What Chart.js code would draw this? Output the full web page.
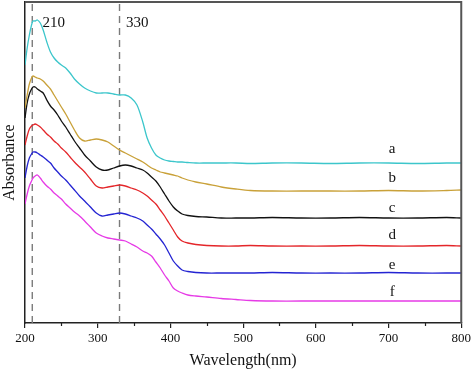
<!DOCTYPE html>
<html><head><meta charset="utf-8">
<script src="https://cdn.jsdelivr.net/npm/chart.js@4/dist/chart.umd.min.js"></script>
<style>html,body{margin:0;padding:0;background:#fff}canvas{display:block}</style>
</head><body>
<canvas id="c" width="474" height="372"></canvas>
<script>
// ---- data ----
const wavelengths = [200,203,206,209,211,214,217,221,225,230,235,240,245,250,256,262,268,275,282,290,298,306,314,322,330,338,346,354,362,368,374,380,386,392,398,404,410,416,424,435,450,470,490,510,540,580,620,660,700,740,780,800];
const absA = [2.58,2.75,2.88,2.98,3.02,3.02,3.03,3.00,2.93,2.81,2.71,2.65,2.61,2.58,2.55,2.50,2.44,2.39,2.35,2.32,2.30,2.30,2.30,2.29,2.28,2.28,2.25,2.18,2.01,1.85,1.75,1.68,1.65,1.63,1.62,1.615,1.61,1.61,1.605,1.60,1.60,1.60,1.60,1.595,1.60,1.60,1.595,1.60,1.60,1.595,1.60,1.60];
const absB = [2.15,2.28,2.39,2.45,2.47,2.46,2.45,2.44,2.42,2.38,2.34,2.28,2.22,2.16,2.09,2.01,1.93,1.85,1.82,1.83,1.84,1.83,1.81,1.77,1.73,1.70,1.67,1.64,1.61,1.58,1.55,1.53,1.51,1.50,1.49,1.48,1.47,1.45,1.43,1.41,1.39,1.36,1.34,1.325,1.32,1.32,1.32,1.32,1.325,1.32,1.325,1.33];
const absC = [2.05,2.20,2.29,2.34,2.36,2.36,2.34,2.32,2.30,2.23,2.17,2.13,2.08,2.02,1.96,1.89,1.82,1.75,1.68,1.62,1.56,1.53,1.53,1.55,1.57,1.58,1.57,1.55,1.53,1.50,1.46,1.42,1.36,1.29,1.22,1.16,1.12,1.09,1.075,1.065,1.06,1.05,1.05,1.05,1.055,1.05,1.05,1.055,1.05,1.05,1.055,1.05];
const absD = [1.78,1.87,1.94,1.97,1.98,1.99,1.98,1.96,1.93,1.89,1.86,1.82,1.79,1.75,1.71,1.66,1.61,1.56,1.51,1.44,1.37,1.35,1.36,1.37,1.38,1.37,1.35,1.33,1.30,1.27,1.23,1.19,1.13,1.07,1.00,0.93,0.86,0.82,0.80,0.785,0.775,0.77,0.77,0.775,0.77,0.77,0.77,0.775,0.77,0.77,0.775,0.77];
const absE = [1.45,1.57,1.65,1.69,1.71,1.71,1.70,1.68,1.66,1.63,1.60,1.55,1.51,1.47,1.43,1.38,1.33,1.27,1.22,1.16,1.10,1.07,1.08,1.09,1.10,1.09,1.07,1.05,1.02,0.98,0.94,0.89,0.84,0.78,0.70,0.62,0.57,0.53,0.515,0.505,0.50,0.50,0.50,0.50,0.505,0.50,0.50,0.50,0.505,0.50,0.50,0.50];
const absF = [1.19,1.29,1.37,1.42,1.45,1.47,1.48,1.45,1.41,1.37,1.34,1.30,1.27,1.24,1.19,1.15,1.11,1.07,1.02,0.96,0.90,0.87,0.85,0.84,0.83,0.82,0.79,0.76,0.72,0.70,0.67,0.61,0.55,0.48,0.42,0.35,0.32,0.30,0.28,0.27,0.26,0.245,0.235,0.225,0.22,0.22,0.22,0.22,0.22,0.22,0.22,0.22];
const seriesNames = ['a','b','c','d','e','f'];
const majorTicks = [200,300,400,500,600,700,800];
const minorTicks = [250,350,450,550,650,750];
const markerWavelengths = [210,330];
const markerLabels = ['210','330'];

// ---- styles / placement ----
const seriesColors = ['#3cc6cb','#c9a139','#111111','#e4262a','#2424d2','#e63be6'];
const seriesLabelPos = [[705,1.74],[705,1.45],[705,1.15],[705,0.88],[705,0.58],[705,0.31]];
const markerLabelPos = [[224,3.0],[339,3.0]];
const Y_MAX = 3.21;
const FONT = '"Liberation Serif","Times New Roman",serif';

const allSeries = [absA,absB,absC,absD,absE,absF];
const datasets = allSeries.map((arr,i)=>({
  label: seriesNames[i],
  data: wavelengths.map((w,j)=>({x:w,y:arr[j]})),
  borderColor: seriesColors[i],
  borderWidth: 1.3,
  pointRadius: 0,
  tension: 0.3,
  fill: false
}));
markerWavelengths.forEach(w=>{
  datasets.push({
    label: 'm'+w,
    data: [{x:w,y:0},{x:w,y:Y_MAX}],
    borderColor: '#7a7a7a',
    borderWidth: 1.4,
    borderDash: [7,5],
    pointRadius: 0,
    tension: 0
  });
});

const decor = {
  id: 'decor',
  afterDatasetsDraw(chart){
    const {ctx, chartArea:a, scales:{x,y}} = chart;
    ctx.save();
    // top & right frame
    ctx.strokeStyle = '#555';
    ctx.lineWidth = 2;
    ctx.beginPath();
    ctx.moveTo(a.left, a.top); ctx.lineTo(a.right, a.top); ctx.lineTo(a.right, a.bottom);
    ctx.stroke();
    // minor ticks
    ctx.strokeStyle = '#222';
    ctx.lineWidth = 1.2;
    minorTicks.forEach(v=>{
      const px = Math.round(x.getPixelForValue(v))+0.5;
      ctx.beginPath(); ctx.moveTo(px, a.bottom); ctx.lineTo(px, a.bottom+3); ctx.stroke();
    });
    // labels
    ctx.fillStyle = '#111';
    ctx.font = '15px ' + FONT;
    ctx.textBaseline = 'middle';
    ctx.textAlign = 'left';
    markerLabels.forEach((t,i)=>{
      ctx.fillText(t, x.getPixelForValue(markerLabelPos[i][0]), y.getPixelForValue(markerLabelPos[i][1]));
    });
    ctx.textAlign = 'center';
    seriesNames.forEach((t,i)=>{
      ctx.fillText(t, x.getPixelForValue(seriesLabelPos[i][0]), y.getPixelForValue(seriesLabelPos[i][1]));
    });
    ctx.restore();
  }
};

new Chart(document.getElementById('c'), {
  type: 'line',
  data: { datasets },
  options: {
    responsive: false,
    animation: false,
    devicePixelRatio: 1,
    layout: { padding: { top: 2, right: 12, left: 0, bottom: 0 } },
    plugins: { legend: { display: false }, tooltip: { enabled: false } },
    scales: {
      x: {
        type: 'linear', min: 200, max: 800,
        afterBuildTicks: s => { s.ticks = majorTicks.map(v=>({value:v})); },
        afterFit: s => { s.height = 49; },
        ticks: { color: '#111', font: { family: FONT, size: 13 }, padding: 3, maxRotation: 0, autoSkip: false },
        grid: { display: true, drawOnChartArea: false, drawTicks: true, tickLength: 5, color: '#222', lineWidth: 1.2 },
        border: { display: true, color: '#222', width: 1.5 },
        title: { display: true, text: 'Wavelength(nm)', color: '#111', font: { family: FONT, size: 16 }, padding: { top: 0, bottom: 2 } }
      },
      y: {
        min: 0, max: Y_MAX,
        afterFit: s => { s.width = 25; },
        ticks: { display: false },
        grid: { display: true, drawOnChartArea: false, drawTicks: false },
        border: { display: true, color: '#222', width: 1.5 },
        title: { display: true, text: 'Absorbance', color: '#111', font: { family: FONT, size: 16 }, padding: { top: 0, bottom: 0 } }
      }
    }
  },
  plugins: [decor]
});
</script>
</body></html>
